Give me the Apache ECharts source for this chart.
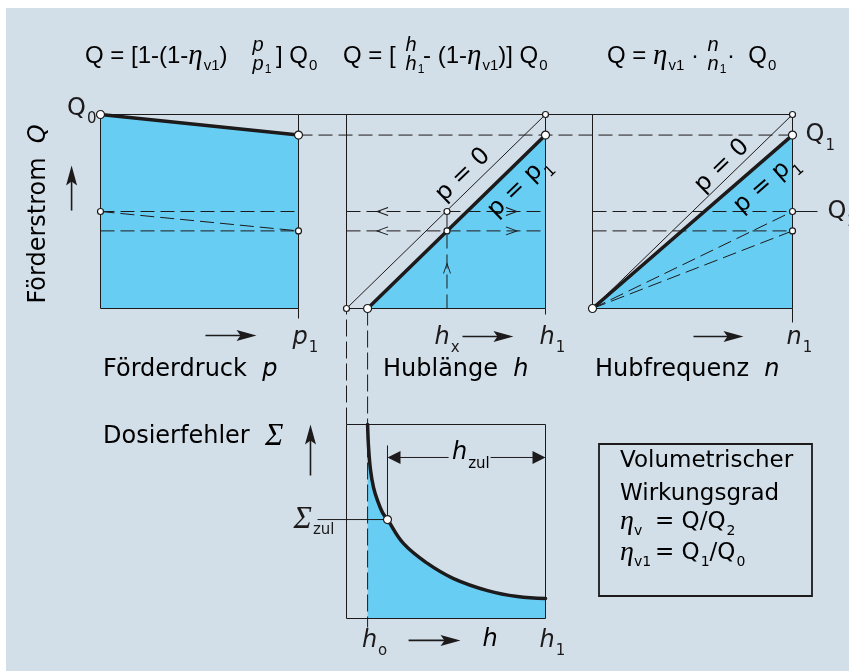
<!DOCTYPE html>
<html>
<head>
<meta charset="utf-8">
<title>Förderstrom und Dosierfehler</title>
<script src="https://cdn.jsdelivr.net/npm/echarts@6.0.0/dist/echarts.min.js"></script>
<style>
  html, body { margin: 0; padding: 0; background: #fff; }
  #chart { width: 849px; height: 671px; }
</style>
</head>
<body>
<div id="chart"></div>
<script>
// everything normalised: Q0 = 1, p1 = h1 = n1 = 1, top of the Σ box = 1
const Q0 = 1.0
const Q1 = 0.894
const Q2 = 0.5
const Qv = 0.4
const h0 = 0.106
const hx = 0.505

// Förderdruck p -> Förderstrom Q
const pValues = [0, 1]
const qByPressure = [Q0, Q1]
const q2ByPressure = [Q2, Qv]

// Hublänge h -> Q  (p = 0 and p = p1)
const hZero = [0, 1]
const qZero = [0, Q0]
const hFull = [h0, 1]
const qFull = [0, Q1]

// Hubfrequenz n -> Q, rays from the origin to n1
const nRay = [0, 1]
const rayEnds = [Q0, Q1, Q2, Qv]

// Dosierfehler Σ over Hublänge h
const errH = [0.106, 0.111, 0.121, 0.136, 0.156, 0.181, 0.206, 0.286, 0.407, 0.538, 0.709, 0.859, 1.0]
const errS = [1.0, 0.881, 0.763, 0.675, 0.608, 0.546, 0.510, 0.387, 0.284, 0.206, 0.144, 0.113, 0.103]
const hZul = 0.206
const sZul = 0.51

// tick labels
const pTicks = [1]
const pLabels = ['{gap| }{i|p}{s|1}']
const hTicks = [hx, 1]
const hLabels = ['{i|h}{s|x}', '{gap| }{i|h}{s|1}']
const nTicks = [1]
const nLabels = ['{gap| }{i|n}{s|1}']
const qLeftTicks = [Q0]
const qLeftLabels = ['{t|Q}{s|0}']
const qRightTicks = [Q1, Q2, Qv]
const qRightLabels = ['{t|Q}{s|1}', '{gap2| }{t|Q}{s|2}', '{t|Q}']
const hBottomTicks = [h0, 1]
const hBottomLabels = ['{gap| }{i|h}{s|o}', '{gap| }{i|h}{s|1}']
const sTicks = [sZul]
const sLabels = ['{g|Σ}{s|zul}']

const INK = '#1c1a1b'
const FILL = '#68cdf3'
const BG = '#d3dfe8'
const SANS = '"DejaVu Sans", sans-serif'
const ARIAL = '"Liberation Sans", Arial, sans-serif'
const SERIF = '"Liberation Serif", "DejaVu Serif", serif'

// half-pixel offsets keep the 1px box lines crisp
const G = [
  { left: 100.5, top: 114.5, width: 198, height: 194 },
  { left: 346.5, top: 114.5, width: 199, height: 194 },
  { left: 592.5, top: 114.5, width: 200, height: 194 },
  { left: 346.5, top: 424.5, width: 199, height: 194 }
]
const pxX = (g, px) => px / G[g].width
const pxY = (g, px) => px / G[g].height
const zip = (xs, ys) => xs.map((x, i) => [x, ys[i]])

function txt(size, extra) {
  return Object.assign({ fontFamily: SANS, fontSize: size, color: INK, lineHeight: 30, verticalAlign: 'middle' }, extra)
}
// subscript: drop = how far its middle sits below the main text middle
function sub(size, drop, extra) {
  return txt(size, Object.assign({ padding: [drop * 2, 0, 0, 1] }, extra))
}
const RICH = {
  t: txt(24),
  i: txt(24, { fontStyle: 'italic' }),
  g: txt(31, { fontFamily: SERIF, fontStyle: 'italic' }),
  s: sub(15, 11),
  gap: txt(10, { width: 14 }),
  gap2: txt(10, { width: 22 }),
  ft: txt(24, { fontFamily: ARIAL }),
  fi: txt(20, { fontFamily: ARIAL, fontStyle: 'italic' }),
  fg: txt(29, { fontFamily: SERIF, fontStyle: 'italic' }),
  fs: sub(15, 10, { fontFamily: ARIAL }),
  fs2: sub(12, 6, { fontFamily: ARIAL }),
  b: txt(23),
  bg: txt(28, { fontFamily: SERIF, fontStyle: 'italic', width: 13 }),
  bs: sub(14, 9),
  bsw: sub(14, 9, { width: 21 })
}

const box = [[0, 0], [1, 0], [1, 1], [0, 1], [0, 0]]
const thin = { color: INK, width: 1, opacity: 1 }
const dash = { color: INK, width: 1, opacity: 1, type: [14, 6] }
const dashV = { color: INK, width: 1, opacity: 1, type: [17, 5] }
const bold = { color: INK, width: 3.5, opacity: 1, cap: 'round' }

const HEAD = 'path://M0,0 L20,5.5 L0,11 L4,5.5 Z'
const HEAD_SIZE = [20, 11]
const TRI = 'path://M0,0 L13,6.5 L0,13 Z'
const TRI_SIZE = [13, 13]

function segs(g, list, style, z) {
  return {
    type: 'lines', coordinateSystem: 'cartesian2d', xAxisIndex: g, yAxisIndex: g,
    polyline: true, clip: false, silent: true, animation: false, z: z || 3,
    lineStyle: style, data: list.map(c => ({ coords: c }))
  }
}
function area(g, pts, smooth) {
  return {
    type: 'line', xAxisIndex: g, yAxisIndex: g, data: pts, symbol: 'none', smooth: smooth || false,
    lineStyle: { width: 0 }, areaStyle: { color: FILL, opacity: 1 }, z: 1, silent: true, animation: false
  }
}
function dots(g, pts, size) {
  return {
    type: 'scatter', xAxisIndex: g, yAxisIndex: g, data: pts, symbol: 'circle', symbolSize: size,
    itemStyle: { color: '#fff', borderColor: INK, borderWidth: 1.2, opacity: 1 },
    z: 6, clip: false, silent: true, animation: false
  }
}
function chevrons(g, pts, path, size) {
  return {
    type: 'scatter', xAxisIndex: g, yAxisIndex: g, data: pts, symbol: path, symbolSize: size,
    itemStyle: { color: 'transparent', borderColor: INK, borderWidth: 1, opacity: 1 },
    z: 5, clip: false, silent: true, animation: false
  }
}
// arrow: shaft from a towards tip b, head centred half a head before the tip
function arrows(g, list, path, size, width) {
  const shafts = [], heads = []
  list.forEach(([a, b]) => {
    const dx = (b[0] - a[0]) * G[g].width, dy = (b[1] - a[1]) * G[g].height
    const k = size[0] / 2 / Math.hypot(dx, dy)
    const c = [b[0] - (b[0] - a[0]) * k, b[1] - (b[1] - a[1]) * k]
    shafts.push([a, c])
    heads.push({ value: c, symbolRotate: Math.atan2(dy, dx) * 180 / Math.PI })
  })
  return [
    segs(g, shafts, { color: INK, width: width, opacity: 1 }, 5),
    {
      type: 'scatter', xAxisIndex: g, yAxisIndex: g, data: heads, symbol: path, symbolSize: size,
      itemStyle: { color: INK, opacity: 1 }, z: 5, clip: false, silent: true, animation: false
    }
  ]
}
function tickLabels(values, labels, extra) {
  return Object.assign({
    show: true,
    customValues: values,
    formatter: v => {
      const i = values.findIndex(t => Math.abs(t - v) < 1e-9)
      return i < 0 ? '' : labels[i]
    },
    rich: RICH
  }, extra)
}
function axis(g, extra) {
  return Object.assign({
    type: 'value', gridIndex: g, min: 0, max: 1,
    axisLine: { show: false }, axisTick: { show: false }, splitLine: { show: false },
    axisLabel: { show: false }
  }, extra)
}
function label(x, y, text, align, extra) {
  return Object.assign({
    type: 'text', x: x, y: y, z: 20, silent: true,
    style: { text: text, rich: RICH, align: align || 'left', verticalAlign: 'middle', textAlign: align || 'left', textVerticalAlign: 'middle' }
  }, extra)
}
const deg = d => d * Math.PI / 180

const acrossX = (G[2].left + G[2].width - G[0].left) / G[0].width
const gapTop = 1 + (G[3].top - G[0].top - G[0].height) / G[3].height

const option = {
  backgroundColor: '#fff',
  animation: false,
  grid: G.map(g => Object.assign({ outerBoundsMode: 'none', containLabel: false }, g)),
  xAxis: [
    axis(0, { axisLabel: tickLabels(pTicks, pLabels, { margin: 14 }) }),
    axis(1, { axisLabel: tickLabels(hTicks, hLabels, { margin: 14 }) }),
    axis(2, { axisLabel: tickLabels(nTicks, nLabels, { margin: 14 }) }),
    axis(3, { axisLabel: tickLabels(hBottomTicks, hBottomLabels, { margin: 7 }) })
  ],
  yAxis: [
    axis(0, { axisLabel: tickLabels(qLeftTicks, qLeftLabels, { margin: 4, padding: [0, 0, 12, 0] }) }),
    axis(1),
    axis(2, { position: 'right', axisLabel: tickLabels(qRightTicks, qRightLabels, { margin: 13 }) }),
    axis(3, { axisLabel: tickLabels(sTicks, sLabels, { margin: 12 }) })
  ],
  graphic: [
    { type: 'rect', shape: { x: 6, y: 8, width: 843, height: 663 }, style: { fill: BG }, z: -10, silent: true },
    // formulas
    label(85, 56, '{ft|Q = [1-(1-}{fg|η}{fs|v1}{ft|)}'),
    label(258, 45, '{fi|p}', 'center'),
    label(262, 64, '{fi|p}{fs2|1}', 'center'),
    label(276, 56, '{ft|] Q}{fs|0}'),
    label(343, 56, '{ft|Q = [}'),
    label(411, 45, '{fi|h}', 'center'),
    label(415, 64, '{fi|h}{fs2|1}', 'center'),
    label(423, 56, '{ft|- (1-}{fg|η}{fs|v1}{ft|)] Q}{fs|0}'),
    label(607, 56, '{ft|Q = }{fg|η}{fs|v1}{ft| ·}'),
    label(713, 45, '{fi|n}', 'center'),
    label(717, 64, '{fi|n}{fs2|1}', 'center'),
    label(727, 56, '{ft|·  Q}{fs|0}'),
    // axis titles
    label(39, 214, '{t|Förderstrom}{gap| }{i|Q}', 'center', { rotation: deg(90) }),
    label(103, 370, '{t|Förderdruck  }{i|p}'),
    label(383, 370, '{t|Hublänge  }{i|h}'),
    label(595, 370, '{t|Hubfrequenz  }{i|n}'),
    label(103, 437, '{t|Dosierfehler  }{g|Σ}'),
    label(490, 640, '{i|h}', 'center'),
    label(452, 453, '{i|h}{s|zul}'),
    // line names
    label(463, 175, '{t|p = 0}', 'center', { rotation: deg(44) }),
    label(519, 187, '{t|p = p}{s|1}', 'center', { rotation: deg(44) }),
    label(722, 166, '{t|p = 0}', 'center', { rotation: deg(44) }),
    label(766, 184, '{t|p = p}{s|1}', 'center', { rotation: deg(41) }),
    // legend box
    { type: 'rect', shape: { x: 599, y: 444, width: 213, height: 152 }, style: { fill: 'none', stroke: INK, lineWidth: 1.8 }, z: 20, silent: true },
    label(620, 461, '{b|Volumetrischer}'),
    label(620, 494, '{b|Wirkungsgrad}'),
    label(620, 522, '{bg|η}{bsw|v}{b|= Q/Q}{bs|2}'),
    label(620, 553, '{bg|η}{bsw|v1}{b|= Q}{bs|1}{b|/Q}{bs|0}')
  ],
  series: [
    // Förderdruck
    area(0, zip(pValues, qByPressure)),
    segs(0, [box, [[1, 1], [acrossX, 1]], [[1, 0], [1, -pxY(0, 10)]]], thin),
    segs(0, [[[0, Q2], [1, Q2]], [[0, Qv], [1, Qv]], zip(pValues, q2ByPressure), [[1, Q1], [acrossX, Q1]]], dash),
    segs(0, [zip(pValues, qByPressure)], bold, 4),
    dots(0, [[0, Q0], [1, Q1]], 8),
    dots(0, [[0, Q2], [1, Qv]], 6),
    ...arrows(0, [[[-0.146, 0.505], [-0.146, 0.737]], [[0.53, -0.139], [0.788, -0.139]]], HEAD, HEAD_SIZE, 1.6),

    // Hublänge
    area(1, zip(hFull, qFull)),
    segs(1, [box, [[1, 0], [1, -pxY(1, 6)]], zip(hZero, qZero)], thin),
    segs(1, [[[0, Q2], [1, Q2]], [[0, Qv], [1, Qv]], [[hx, 0], [hx, Q2]]], dash),
    segs(1, [zip(hFull, qFull)], bold, 4),
    dots(1, [[1, Q1], [h0, 0]], 8),
    dots(1, [[1, Q0], [0, 0], [hx, Q2], [hx, Qv]], 6),
    chevrons(1, [[0.181, Q2], [0.181, Qv]], 'path://M11,0 L0,4 L11,8', [11, 8]),
    chevrons(1, [[0.829, Q2], [0.829, Qv]], 'path://M0,0 L11,4 L0,8', [11, 8]),
    chevrons(1, [[hx, 0.206]], 'path://M0,11 L4,0 L8,11', [7, 10]),
    ...arrows(1, [[[0.583, -0.144], [0.839, -0.144]]], HEAD, HEAD_SIZE, 1.6),

    // Hubfrequenz
    area(2, zip(nRay, [0, rayEnds[1]])),
    segs(2, [box, [[1, 0], [1, -pxY(2, 14)]], zip(nRay, [0, rayEnds[0]]), [[1, Q2], [1 + pxX(2, 25), Q2]]], thin),
    segs(2, [[[0, Q2], [1, Q2]], [[0, Qv], [1, Qv]], zip(nRay, [0, rayEnds[2]]), zip(nRay, [0, rayEnds[3]])], dash),
    segs(2, [zip(nRay, [0, rayEnds[1]])], bold, 4),
    dots(2, [[0, 0], [1, Q1]], 8),
    dots(2, [[1, Q0], [1, Q2], [1, Qv]], 6),
    ...arrows(2, [[[0.505, -0.144], [0.755, -0.144]]], HEAD, HEAD_SIZE, 1.6),

    // Dosierfehler
    area(3, zip(errH, errS), 0.4),
    segs(3, [box, [[-pxX(3, 29), sZul], [hZul, sZul]], [[hZul, sZul], [hZul, 0.892]]], thin),
    segs(3, [[[0, 1], [0, gapTop]], [[h0, gapTop], [h0, -pxY(3, 9)]]], dashV),
    {
      type: 'line', xAxisIndex: 3, yAxisIndex: 3, data: zip(errH, errS), symbol: 'none', smooth: 0.4,
      lineStyle: bold, z: 4, clip: false, silent: true, animation: false
    },
    dots(3, [[hZul, sZul]], 8),
    ...arrows(3, [[[-0.181, 0.737], [-0.181, 1.0]], [[0.312, -0.113], [0.573, -0.113]]], HEAD, HEAD_SIZE, 1.6),
    ...arrows(3, [[[0.513, 0.83], [hZul, 0.83]], [[0.724, 0.83], [1, 0.83]]], TRI, TRI_SIZE, 1)
  ]
}

const chart = echarts.init(document.getElementById('chart'))
chart.setOption(option)
</script>
</body>
</html>
